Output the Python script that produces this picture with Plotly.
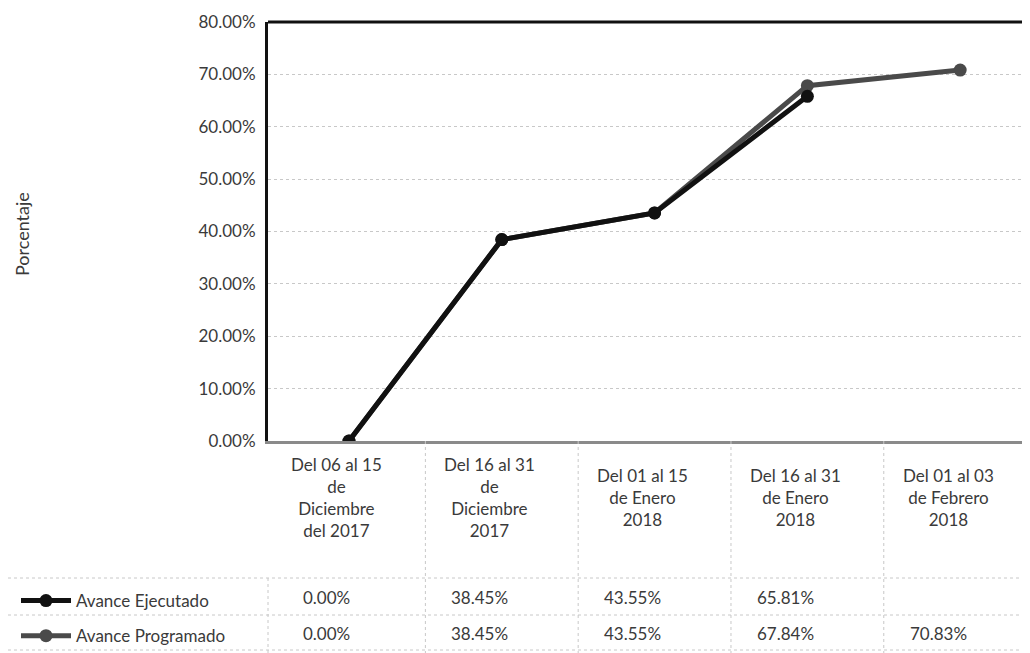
import plotly.graph_objects as go

categories = [
    "Del 06 al 15<br>de<br>Diciembre<br>del 2017",
    "Del 16 al 31<br>de<br>Diciembre<br>2017",
    "Del 01 al 15<br>de Enero<br>2018",
    "Del 16 al 31<br>de Enero<br>2018",
    "Del 01 al 03<br>de Febrero<br>2018",
]
ejecutado = [0.00, 38.45, 43.55, 65.81, None]
programado = [0.00, 38.45, 43.55, 67.84, 70.83]
series_names = ["Avance Ejecutado", "Avance Programado"]
tick_vals = [0, 10, 20, 30, 40, 50, 60, 70, 80]
tick_text = [f"{v:.2f}%" for v in tick_vals]

FONT = "Lato"
TXT = "#3a3a3a"
GRID = "#c8c8c8"
FS = 17

x_idx = list(range(len(categories)))

fig = go.Figure()
fig.add_trace(go.Scatter(
    x=x_idx, y=programado, name=series_names[1], mode="lines+markers",
    line=dict(color="#4a4a4a", width=5), marker=dict(size=13, color="#4a4a4a"),
    legendgroup="b", legendrank=2,
))
fig.add_trace(go.Scatter(
    x=x_idx, y=ejecutado, name=series_names[0], mode="lines+markers",
    line=dict(color="#111111", width=5), marker=dict(size=13, color="#111111"),
    legendgroup="a", legendrank=1,
))

# page body has an 8px margin; plot area spans ref x 268..1030, y 22..441
def py(px):
    return (441 - px) / 419.0

def pxx(px):
    return (px - 268) / 762.0

annotations = []
for i, c in enumerate(categories):
    annotations.append(dict(x=i, xref="x", y=py(497), yref="paper", text=c,
                            showarrow=False, xshift=-12, yanchor="middle",
                            font=dict(family=FONT, size=FS, color=TXT)))
for i, v in enumerate(ejecutado):
    if v is not None:
        annotations.append(dict(x=i, xref="x", y=py(597), yref="paper", text=f"{v:.2f}%",
                                showarrow=False, xshift=-22, yanchor="middle",
                                font=dict(family=FONT, size=FS, color=TXT)))
for i, v in enumerate(programado):
    annotations.append(dict(x=i, xref="x", y=py(633), yref="paper", text=f"{v:.2f}%",
                            showarrow=False, xshift=-22, yanchor="middle",
                            font=dict(family=FONT, size=FS, color=TXT)))
annotations.append(dict(x=pxx(22), xref="paper", xanchor="center", y=py(234), yref="paper",
                        yanchor="middle", text="Porcentaje", textangle=-90, showarrow=False,
                        font=dict(family=FONT, size=18, color=TXT)))

shapes = []
shapes.append(dict(type="line", xref="paper", yref="paper", x0=0, x1=1, y0=1, y1=1,
                   line=dict(color="#111", width=3)))
for b in [0.5, 1.5, 2.5, 3.5]:
    shapes.append(dict(type="line", xref="x", yref="paper", x0=b, x1=b,
                       y0=0, y1=py(653), line=dict(color=GRID, width=1, dash="dot")))
shapes.append(dict(type="line", xref="paper", yref="paper", x0=0, x1=0,
                   y0=py(578), y1=py(653), line=dict(color=GRID, width=1, dash="dot")))
for ypx in [578, 615, 650]:
    shapes.append(dict(type="line", xref="paper", yref="paper", x0=pxx(8), x1=1,
                       y0=py(ypx), y1=py(ypx), line=dict(color=GRID, width=1, dash="dot")))

fig.update_layout(
    width=1022, height=645,
    margin=dict(l=260, r=0, t=14, b=212, autoexpand=False),
    paper_bgcolor="white", plot_bgcolor="white",
    font=dict(family=FONT, size=FS, color=TXT),
    showlegend=True,
    legend=dict(x=pxx(16), xanchor="left", y=py(583), yanchor="top",
                tracegroupgap=10, font=dict(family=FONT, size=FS, color=TXT),
                bgcolor="rgba(0,0,0,0)", itemwidth=50),
    annotations=annotations,
    shapes=shapes,
)
fig.update_xaxes(range=[-0.53, 4.457], showticklabels=False, showgrid=False,
                 zeroline=False, showline=True, linecolor="#8a8a8a", linewidth=3,
                 tickvals=x_idx)
fig.update_yaxes(range=[0, 80], tickvals=tick_vals, ticktext=tick_text,
                 showgrid=True, gridcolor=GRID, griddash="dot", gridwidth=1,
                 zeroline=False, showline=True, linecolor="#111", linewidth=3,
                 ticks="", ticklabelstandoff=6,
                 tickfont=dict(family=FONT, size=FS, color="#3a3a3a"))

fig.write_html("out.html")
